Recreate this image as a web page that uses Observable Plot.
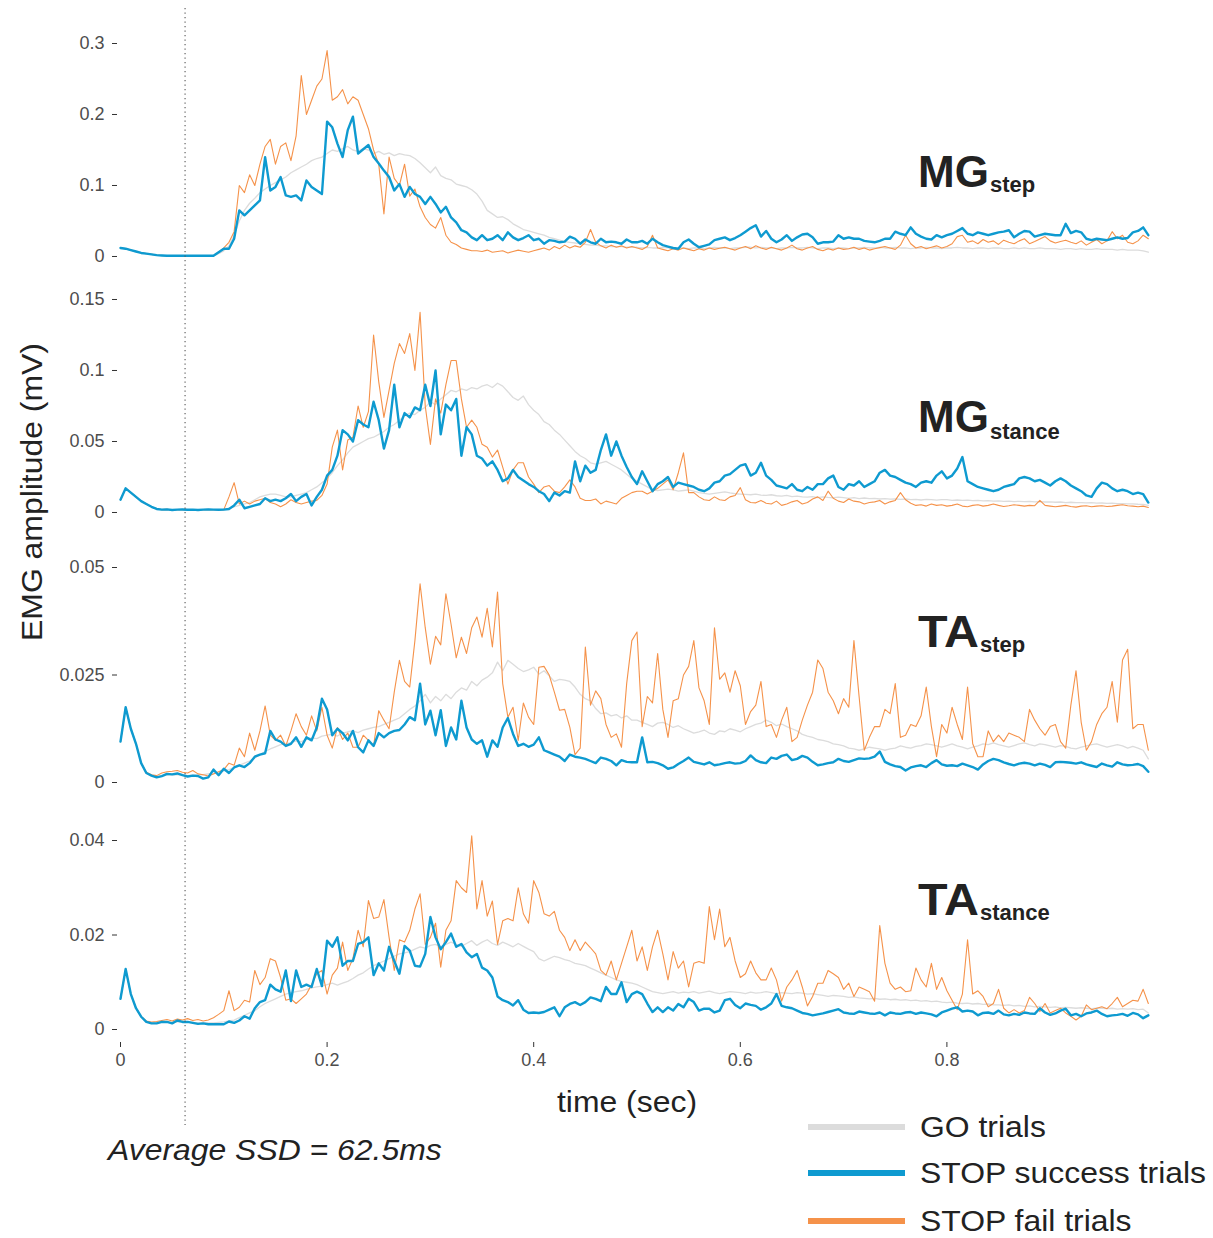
<!DOCTYPE html>
<html><head><meta charset="utf-8">
<script src="https://cdn.jsdelivr.net/npm/d3@7"></script>
<script src="https://cdn.jsdelivr.net/npm/@observablehq/plot@0.6"></script>
<style>
body{margin:0;background:#fff;font-family:"Liberation Sans",Arial,sans-serif;}
#root{position:relative;width:1213px;height:1238px;overflow:hidden;background:#fff;}
#root svg{position:absolute;left:0;}
.t{position:absolute;white-space:nowrap;line-height:1;color:#222;transform-origin:0 0;}
</style></head><body><div id="root"></div>
<script>
// ---------- data ----------
const dt = 0.005;            // sample step of all traces (sec), t = i*dt
const ssdSec = 0.0625;       // average stop-signal delay
const xTicks = [0, 0.2, 0.4, 0.6, 0.8];
const mgStepTicks = [0, 0.1, 0.2, 0.3];
const mgStanceTicks = [0, 0.05, 0.1, 0.15];
const taStepTicks = [0, 0.025, 0.05];
const taStanceTicks = [0, 0.02, 0.04];
const seriesNames = ["GO trials", "STOP success trials", "STOP fail trials"];

const mgStepGo = [
0.012,0.011,0.009,0.007,0.005,0.004,0.003,0.002,0.0015,0.001,
0.001,0.001,0.001,0.001,0.001,0.001,0.001,0.001,0.001,0.004,
0.008,0.015,0.03,0.05,0.065,0.075,0.082,0.09,0.095,0.1,
0.104,0.108,0.112,0.118,0.122,0.126,0.13,0.135,0.138,0.14,
0.145,0.15,0.148,0.152,0.155,0.15,0.148,0.152,0.15,0.145,
0.148,0.144,0.146,0.142,0.145,0.143,0.142,0.138,0.132,0.125,
0.118,0.126,0.114,0.11,0.108,0.102,0.1,0.098,0.094,0.088,
0.078,0.065,0.06,0.055,0.056,0.052,0.046,0.042,0.038,0.036,
0.034,0.032,0.03,0.027,0.025,0.023,0.021,0.02,0.019,0.018,
0.017,0.016,0.016,0.015,0.015,0.014,0.014,0.014,0.013,0.013,
0.013,0.012,0.013,0.012,0.012,0.013,0.012,0.011,0.012,0.012,
0.011,0.012,0.012,0.011,0.012,0.013,0.012,0.012,0.011,0.012,
0.012,0.013,0.013,0.012,0.013,0.012,0.012,0.011,0.012,0.012,
0.013,0.012,0.012,0.013,0.012,0.011,0.012,0.012,0.011,0.012,
0.012,0.011,0.012,0.012,0.013,0.012,0.012,0.013,0.012,0.012,
0.013,0.012,0.012,0.011,0.012,0.012,0.013,0.012,0.012,0.011,
0.012,0.012,0.013,0.012,0.012,0.011,0.012,0.012,0.011,0.012,
0.012,0.011,0.011,0.012,0.011,0.012,0.011,0.011,0.012,0.011,
0.011,0.011,0.01,0.011,0.011,0.01,0.011,0.01,0.01,0.011,
0.01,0.01,0.01,0.009,0.01,0.009,0.009,0.009,0.008,0.006];
const mgStepSuccess = [
0.012,0.011,0.009,0.007,0.005,0.004,0.003,0.002,0.0015,0.001,
0.001,0.001,0.001,0.001,0.001,0.001,0.001,0.001,0.001,0.006,
0.011,0.011,0.025,0.065,0.058,0.065,0.072,0.079,0.14,0.093,
0.098,0.112,0.086,0.084,0.086,0.079,0.107,0.098,0.093,0.088,
0.19,0.182,0.159,0.14,0.178,0.197,0.145,0.151,0.157,0.14,
0.131,0.121,0.112,0.093,0.102,0.084,0.098,0.088,0.084,0.074,
0.084,0.074,0.062,0.07,0.055,0.048,0.037,0.034,0.027,0.023,
0.03,0.023,0.025,0.03,0.023,0.034,0.027,0.023,0.026,0.03,
0.023,0.025,0.018,0.023,0.022,0.02,0.021,0.028,0.025,0.018,
0.024,0.02,0.018,0.025,0.02,0.021,0.02,0.018,0.024,0.02,
0.02,0.022,0.018,0.025,0.02,0.016,0.014,0.012,0.011,0.02,
0.024,0.018,0.013,0.015,0.017,0.023,0.025,0.027,0.023,0.026,
0.03,0.035,0.04,0.044,0.028,0.036,0.025,0.02,0.024,0.03,
0.022,0.027,0.031,0.032,0.027,0.018,0.02,0.02,0.021,0.03,
0.025,0.027,0.025,0.025,0.022,0.021,0.02,0.022,0.025,0.025,
0.035,0.032,0.03,0.041,0.032,0.028,0.025,0.024,0.03,0.027,
0.03,0.032,0.036,0.04,0.032,0.03,0.034,0.032,0.03,0.032,
0.034,0.035,0.037,0.027,0.032,0.036,0.035,0.028,0.03,0.032,
0.031,0.03,0.03,0.046,0.033,0.036,0.034,0.025,0.023,0.025,
0.024,0.023,0.025,0.027,0.025,0.026,0.034,0.036,0.041,0.03];
const mgStepFail = [
0.012,0.011,0.009,0.007,0.005,0.004,0.003,0.002,0.0015,0.001,
0.001,0.001,0.001,0.001,0.001,0.001,0.001,0.001,0.001,0.006,
0.012,0.02,0.035,0.1,0.09,0.115,0.1,0.13,0.155,0.165,
0.13,0.155,0.16,0.135,0.17,0.255,0.2,0.22,0.24,0.25,
0.29,0.22,0.225,0.235,0.215,0.225,0.22,0.2,0.18,0.15,
0.13,0.06,0.14,0.11,0.1,0.13,0.085,0.095,0.07,0.055,
0.045,0.04,0.055,0.03,0.02,0.017,0.012,0.01,0.008,0.008,
0.007,0.009,0.006,0.007,0.008,0.005,0.007,0.009,0.0075,0.006,
0.008,0.01,0.012,0.009,0.014,0.011,0.016,0.012,0.015,0.013,
0.02,0.038,0.02,0.015,0.012,0.016,0.013,0.015,0.012,0.014,
0.012,0.01,0.014,0.03,0.012,0.01,0.008,0.011,0.009,0.012,
0.01,0.008,0.011,0.009,0.012,0.01,0.0115,0.013,0.011,0.009,
0.012,0.014,0.011,0.015,0.012,0.01,0.013,0.011,0.009,0.012,
0.016,0.011,0.009,0.012,0.014,0.01,0.008,0.011,0.009,0.012,
0.01,0.011,0.013,0.01,0.012,0.009,0.011,0.0125,0.014,0.012,
0.01,0.016,0.03,0.018,0.012,0.014,0.011,0.013,0.015,0.012,
0.014,0.018,0.028,0.03,0.02,0.022,0.018,0.024,0.02,0.022,
0.017,0.023,0.02,0.018,0.022,0.025,0.018,0.021,0.0245,0.028,
0.022,0.019,0.021,0.023,0.02,0.018,0.022,0.016,0.02,0.024,
0.018,0.022,0.035,0.025,0.03,0.02,0.018,0.022,0.03,0.025];

const mgStanceGo = [
0.009,0.017,0.014,0.011,0.008,0.006,0.004,0.0025,0.002,0.0022,
0.0018,0.002,0.0021,0.0019,0.002,0.0018,0.002,0.0021,0.002,0.0019,
0.002,0.003,0.004,0.005,0.006,0.007,0.009,0.011,0.012,0.013,
0.013,0.012,0.011,0.011,0.012,0.013,0.014,0.016,0.018,0.021,
0.024,0.028,0.033,0.037,0.042,0.046,0.048,0.05,0.052,0.053,
0.055,0.057,0.06,0.062,0.065,0.068,0.07,0.069,0.072,0.074,
0.078,0.076,0.08,0.083,0.086,0.085,0.087,0.086,0.088,0.087,
0.089,0.09,0.088,0.091,0.089,0.085,0.081,0.079,0.082,0.076,
0.072,0.069,0.064,0.062,0.058,0.055,0.051,0.047,0.043,0.04,
0.038,0.035,0.034,0.035,0.036,0.034,0.032,0.03,0.027,0.024,
0.022,0.02,0.018,0.016,0.0155,0.016,0.0165,0.016,0.015,0.0155,
0.016,0.015,0.014,0.0135,0.013,0.0135,0.014,0.0145,0.0138,0.0132,
0.013,0.0128,0.0125,0.013,0.0122,0.012,0.0125,0.0118,0.0115,0.012,
0.0112,0.0115,0.011,0.0108,0.0112,0.0105,0.011,0.0106,0.0104,0.0108,
0.0105,0.01,0.0104,0.0098,0.0102,0.0097,0.01,0.0095,0.0098,0.0094,
0.0096,0.0092,0.0095,0.009,0.0093,0.0088,0.0092,0.009,0.0087,0.009,
0.009,0.0086,0.0088,0.0085,0.0087,0.0083,0.0085,0.0082,0.0084,0.008,
0.0082,0.0078,0.008,0.0077,0.0079,0.0076,0.0078,0.0075,0.0077,0.0074,
0.0075,0.0072,0.0074,0.007,0.0072,0.0069,0.007,0.0068,0.0069,0.0066,
0.0067,0.0064,0.0066,0.0062,0.0063,0.006,0.0061,0.0058,0.0057,0.005];
const mgStanceSuccess = [
0.009,0.017,0.014,0.011,0.008,0.006,0.004,0.0025,0.002,0.0022,
0.0018,0.002,0.0021,0.0019,0.002,0.0018,0.002,0.0021,0.002,0.0019,
0.002,0.0025,0.005,0.009,0.003,0.004,0.005,0.006,0.01,0.008,
0.009,0.008,0.01,0.013,0.008,0.011,0.013,0.005,0.011,0.016,
0.026,0.03,0.04,0.058,0.055,0.05,0.065,0.062,0.06,0.078,
0.065,0.045,0.058,0.09,0.06,0.07,0.067,0.074,0.072,0.09,
0.075,0.1,0.055,0.076,0.072,0.08,0.04,0.06,0.055,0.04,
0.038,0.033,0.036,0.03,0.022,0.024,0.03,0.025,0.0225,0.02,
0.018,0.015,0.013,0.008,0.014,0.012,0.015,0.014,0.036,0.022,
0.033,0.028,0.03,0.044,0.055,0.04,0.05,0.04,0.032,0.025,
0.02,0.029,0.022,0.015,0.02,0.022,0.025,0.018,0.021,0.02,
0.019,0.018,0.016,0.015,0.017,0.021,0.022,0.026,0.027,0.03,
0.033,0.034,0.026,0.028,0.035,0.026,0.023,0.019,0.018,0.017,
0.02,0.016,0.015,0.018,0.016,0.02,0.02,0.024,0.026,0.018,
0.016,0.02,0.019,0.022,0.018,0.02,0.022,0.028,0.03,0.026,
0.025,0.023,0.021,0.02,0.018,0.021,0.022,0.021,0.026,0.029,
0.024,0.026,0.031,0.039,0.022,0.02,0.018,0.017,0.016,0.015,
0.016,0.018,0.019,0.02,0.024,0.025,0.024,0.022,0.023,0.021,
0.019,0.022,0.024,0.022,0.019,0.017,0.015,0.012,0.011,0.017,
0.021,0.02,0.017,0.015,0.016,0.015,0.013,0.014,0.013,0.007];
const mgStanceFail = [
0.009,0.017,0.014,0.011,0.008,0.006,0.004,0.0025,0.002,0.0022,
0.0018,0.002,0.0021,0.0019,0.002,0.0018,0.002,0.0021,0.002,0.0019,
0.002,0.011,0.021,0.006,0.008,0.006,0.008,0.009,0.01,0.007,
0.006,0.004,0.006,0.009,0.007,0.006,0.007,0.008,0.0085,0.012,
0.02,0.046,0.058,0.03,0.051,0.053,0.075,0.06,0.071,0.125,
0.092,0.067,0.086,0.105,0.119,0.112,0.126,0.1,0.141,0.075,
0.048,0.08,0.07,0.09,0.107,0.107,0.08,0.06,0.065,0.06,
0.048,0.046,0.039,0.044,0.032,0.02,0.03,0.035,0.035,0.025,
0.02,0.014,0.018,0.019,0.015,0.014,0.018,0.023,0.018,0.01,
0.0085,0.0085,0.0095,0.006,0.008,0.007,0.006,0.01,0.012,0.014,
0.015,0.015,0.013,0.015,0.017,0.02,0.023,0.016,0.028,0.042,
0.014,0.014,0.011,0.009,0.0085,0.011,0.009,0.0085,0.011,0.012,
0.0175,0.009,0.007,0.0068,0.0085,0.0065,0.006,0.008,0.005,0.006,
0.0075,0.0085,0.006,0.007,0.0095,0.011,0.0085,0.015,0.01,0.008,
0.007,0.0095,0.008,0.0075,0.006,0.007,0.0075,0.0085,0.006,0.0075,
0.0085,0.014,0.009,0.0065,0.005,0.0055,0.0045,0.006,0.005,0.0055,
0.0045,0.005,0.006,0.0045,0.004,0.005,0.0055,0.0045,0.005,0.006,
0.005,0.0042,0.0048,0.0055,0.005,0.0045,0.005,0.0048,0.0085,0.005,
0.0045,0.004,0.0045,0.005,0.0042,0.0038,0.0045,0.0048,0.004,0.0045,
0.0048,0.0042,0.0045,0.005,0.0055,0.0048,0.0045,0.004,0.0045,0.0035];

const taStepGo = [
0.0095,0.0175,0.0125,0.009,0.0045,0.0022,0.0016,0.0014,0.0015,0.0017,
0.0018,0.0018,0.0017,0.0016,0.0017,0.0017,0.0018,0.002,0.0022,0.0024,
0.0027,0.003,0.0035,0.004,0.0045,0.005,0.0057,0.0065,0.0072,0.0078,
0.0083,0.0088,0.009,0.0093,0.0097,0.0095,0.01,0.0104,0.0102,0.0108,
0.011,0.0112,0.0108,0.0115,0.0118,0.012,0.0116,0.0122,0.0125,0.0128,
0.013,0.0135,0.014,0.0145,0.015,0.016,0.017,0.0178,0.019,0.0205,
0.0185,0.02,0.019,0.0205,0.0195,0.021,0.022,0.0215,0.0235,0.0225,
0.0238,0.0245,0.0255,0.028,0.026,0.0284,0.0275,0.0265,0.0258,0.0262,
0.0268,0.0252,0.026,0.0248,0.0235,0.024,0.0238,0.0235,0.0222,0.0205,
0.0195,0.019,0.0172,0.016,0.0162,0.0155,0.0158,0.015,0.0155,0.0145,
0.0145,0.014,0.0135,0.013,0.0138,0.014,0.0135,0.0128,0.0132,0.0125,
0.012,0.0115,0.0118,0.0122,0.0115,0.0112,0.012,0.0118,0.0125,0.0122,
0.0118,0.0125,0.013,0.0135,0.0138,0.0145,0.014,0.0132,0.0136,0.013,
0.0125,0.012,0.0112,0.0108,0.0105,0.01,0.0098,0.0095,0.009,0.0088,
0.0085,0.008,0.0078,0.0075,0.0078,0.0082,0.008,0.0078,0.0075,0.0078,
0.008,0.0085,0.0082,0.008,0.0084,0.0086,0.009,0.0088,0.0085,0.0082,
0.0086,0.009,0.0085,0.0082,0.0078,0.0082,0.0085,0.009,0.0088,0.0092,
0.0088,0.0085,0.0082,0.0086,0.009,0.0092,0.0088,0.0085,0.009,0.0088,
0.0085,0.0082,0.0086,0.0084,0.008,0.0078,0.0082,0.0085,0.0088,0.009,
0.0086,0.0082,0.0085,0.0088,0.0085,0.008,0.0084,0.008,0.0075,0.0055];
const taStepSuccess = [
0.0095,0.0175,0.0125,0.009,0.0045,0.0022,0.0016,0.0012,0.0015,0.002,
0.0019,0.0021,0.0017,0.0014,0.0016,0.0015,0.0009,0.0012,0.003,0.0017,
0.0032,0.0022,0.0035,0.004,0.0036,0.0045,0.006,0.0065,0.0068,0.012,
0.01,0.0095,0.0085,0.009,0.0105,0.0083,0.0105,0.0098,0.0128,0.0195,
0.017,0.011,0.0125,0.0115,0.0098,0.012,0.0082,0.007,0.0098,0.0085,
0.0115,0.0105,0.0115,0.012,0.0122,0.0135,0.0152,0.0145,0.023,0.0135,
0.0167,0.011,0.0168,0.0085,0.0128,0.01,0.019,0.0128,0.01,0.009,
0.0098,0.006,0.0098,0.0083,0.0128,0.015,0.0113,0.0085,0.009,0.0083,
0.0088,0.0105,0.0075,0.007,0.0065,0.006,0.005,0.0065,0.006,0.0058,
0.0055,0.005,0.0045,0.0058,0.0055,0.005,0.004,0.0052,0.0048,0.0047,
0.0047,0.0105,0.0047,0.0048,0.0045,0.004,0.0032,0.0035,0.0043,0.005,
0.0058,0.0048,0.0045,0.0042,0.0047,0.004,0.0042,0.0045,0.0047,0.0044,
0.0045,0.005,0.0063,0.0052,0.0047,0.0045,0.0058,0.0055,0.0062,0.0065,
0.0052,0.0055,0.0062,0.0058,0.0048,0.004,0.0042,0.0045,0.0047,0.0055,
0.005,0.0048,0.0052,0.0056,0.0055,0.0056,0.006,0.0072,0.0048,0.0042,
0.0038,0.0036,0.0028,0.0035,0.0038,0.004,0.0036,0.0045,0.0052,0.0042,
0.0039,0.004,0.0038,0.0044,0.004,0.0036,0.003,0.0042,0.005,0.0055,
0.0052,0.0047,0.0043,0.004,0.0044,0.0046,0.0044,0.004,0.0044,0.0041,
0.0036,0.0047,0.0048,0.0047,0.0046,0.0044,0.0047,0.0042,0.0039,0.0036,
0.0044,0.004,0.0037,0.0047,0.0042,0.004,0.0041,0.0043,0.0038,0.0025];
const taStepFail = [
0.0095,0.0175,0.0125,0.009,0.0045,0.0024,0.0018,0.0016,0.0022,0.0025,
0.0026,0.0028,0.0024,0.0022,0.0028,0.002,0.0018,0.0015,0.002,0.0025,
0.003,0.0045,0.004,0.008,0.006,0.0115,0.0075,0.012,0.0178,0.011,
0.0098,0.011,0.0085,0.012,0.016,0.013,0.011,0.0155,0.012,0.0175,
0.011,0.008,0.0128,0.01,0.0115,0.0082,0.0082,0.011,0.0098,0.0085,
0.0167,0.0145,0.0125,0.021,0.0284,0.0235,0.0222,0.033,0.0462,0.036,
0.0275,0.034,0.032,0.0439,0.0368,0.029,0.0338,0.03,0.036,0.0385,
0.0338,0.0405,0.0315,0.0443,0.023,0.0152,0.0175,0.0098,0.0185,0.0152,
0.0135,0.0268,0.027,0.025,0.021,0.0168,0.017,0.0128,0.0065,0.008,
0.0315,0.018,0.0213,0.0195,0.0135,0.0105,0.0113,0.0082,0.023,0.033,
0.035,0.013,0.02,0.0185,0.03,0.017,0.0105,0.019,0.0195,0.025,
0.027,0.033,0.022,0.019,0.0135,0.036,0.024,0.0255,0.021,0.026,
0.0225,0.0135,0.0165,0.018,0.0235,0.013,0.0135,0.0105,0.0145,0.0175,
0.0095,0.0105,0.0145,0.018,0.021,0.0285,0.0265,0.021,0.019,0.016,
0.0195,0.0175,0.033,0.02,0.0075,0.0105,0.013,0.013,0.017,0.016,
0.023,0.0105,0.011,0.0135,0.013,0.0155,0.0222,0.013,0.006,0.0135,
0.0115,0.0175,0.0135,0.01,0.0222,0.009,0.006,0.006,0.012,0.0095,
0.011,0.0095,0.0115,0.011,0.0105,0.0095,0.017,0.0145,0.0125,0.011,
0.013,0.0135,0.0095,0.008,0.018,0.026,0.014,0.0075,0.0095,0.0135,
0.016,0.0175,0.0235,0.014,0.0285,0.031,0.0125,0.0135,0.0135,0.0075];

const taStanceGo = [
0.0065,0.0128,0.0075,0.0045,0.0027,0.0016,0.0014,0.0014,0.0015,0.0016,
0.0015,0.0016,0.0016,0.0015,0.0015,0.0014,0.0014,0.0014,0.0014,0.0015,
0.0016,0.0018,0.002,0.0025,0.003,0.0035,0.004,0.0048,0.0055,0.006,
0.0065,0.007,0.0075,0.0078,0.008,0.0082,0.0085,0.0088,0.009,0.0092,
0.0095,0.0098,0.0094,0.0098,0.0102,0.0108,0.0115,0.012,0.0128,0.0135,
0.014,0.0145,0.015,0.0155,0.016,0.0162,0.0165,0.017,0.0175,0.0172,
0.0178,0.018,0.0175,0.018,0.0185,0.018,0.0176,0.0182,0.0188,0.0178,
0.0185,0.019,0.0182,0.0178,0.0185,0.018,0.0175,0.0182,0.0176,0.017,
0.0165,0.015,0.0145,0.015,0.0155,0.0152,0.0148,0.0145,0.014,0.0138,
0.0135,0.013,0.0125,0.012,0.0115,0.011,0.0105,0.0102,0.01,0.0098,
0.0095,0.009,0.0085,0.008,0.0078,0.0076,0.0078,0.008,0.0077,0.0079,
0.0078,0.008,0.0077,0.0079,0.0081,0.0078,0.0076,0.0078,0.008,0.0079,
0.0078,0.0076,0.0079,0.0077,0.0078,0.008,0.0078,0.0076,0.0078,0.0077,
0.0076,0.0078,0.0077,0.0075,0.0076,0.0074,0.0072,0.007,0.0072,0.0071,
0.007,0.0068,0.0069,0.0067,0.0066,0.0065,0.0066,0.0064,0.0065,0.0063,
0.0064,0.0062,0.0063,0.0061,0.0062,0.006,0.0061,0.0059,0.006,0.0058,
0.0057,0.0058,0.0056,0.0055,0.0056,0.0054,0.0055,0.0053,0.0054,0.0052,
0.0052,0.0051,0.0052,0.005,0.0051,0.0049,0.005,0.0048,0.0049,0.0048,
0.0047,0.0048,0.0046,0.0047,0.0046,0.0045,0.0046,0.0045,0.0044,0.0045,
0.0045,0.0044,0.0045,0.0043,0.0044,0.0043,0.0044,0.0042,0.0043,0.0035];
const taStanceSuccess = [
0.0065,0.0128,0.0075,0.0045,0.0027,0.0016,0.0013,0.0013,0.0016,0.0016,
0.0013,0.0019,0.0016,0.0016,0.0014,0.0012,0.0013,0.0011,0.0011,0.0011,
0.0011,0.0017,0.0014,0.0019,0.0028,0.0023,0.0045,0.0058,0.0062,0.0095,
0.0085,0.008,0.0125,0.006,0.0125,0.009,0.0095,0.009,0.0128,0.0092,
0.0188,0.0175,0.0195,0.0135,0.0145,0.0145,0.0181,0.0185,0.0195,0.0115,
0.014,0.0125,0.0175,0.0145,0.0118,0.0177,0.0167,0.0135,0.0133,0.016,
0.0238,0.0195,0.017,0.0185,0.0203,0.0175,0.0181,0.0163,0.0153,0.016,
0.0131,0.0125,0.011,0.007,0.0062,0.0058,0.0051,0.0062,0.0042,0.0035,
0.0036,0.0035,0.0037,0.0042,0.0047,0.0028,0.0047,0.0054,0.0058,0.0052,
0.0058,0.0068,0.0065,0.006,0.009,0.0075,0.0075,0.01,0.0058,0.0075,
0.008,0.0075,0.0055,0.0037,0.0047,0.0037,0.0047,0.004,0.0054,0.0047,
0.0065,0.0058,0.004,0.0044,0.0044,0.0036,0.004,0.0062,0.0065,0.0052,
0.0045,0.0055,0.0052,0.005,0.0042,0.0047,0.0055,0.0075,0.005,0.0047,
0.0045,0.004,0.0035,0.0033,0.003,0.0032,0.0034,0.0037,0.004,0.0043,
0.0036,0.0034,0.0033,0.0038,0.0036,0.0034,0.0033,0.0036,0.003,0.0036,
0.0034,0.0033,0.0036,0.0037,0.0033,0.0036,0.0034,0.0032,0.0028,0.0036,
0.004,0.0044,0.0047,0.0038,0.004,0.0038,0.003,0.0035,0.0036,0.0033,
0.004,0.0032,0.003,0.0033,0.0031,0.0036,0.0034,0.0033,0.0045,0.0036,
0.0031,0.0034,0.004,0.0044,0.003,0.0033,0.0028,0.0034,0.0036,0.004,
0.0033,0.0028,0.003,0.0031,0.0033,0.0029,0.0035,0.0032,0.0024,0.003];
const taStanceFail = [
0.0065,0.0128,0.0075,0.0045,0.0027,0.0018,0.0016,0.0017,0.0019,0.0021,
0.0018,0.0022,0.002,0.0023,0.0019,0.0021,0.0018,0.002,0.0025,0.0032,
0.004,0.0082,0.004,0.0047,0.0062,0.0058,0.0125,0.0095,0.011,0.015,
0.0145,0.011,0.0062,0.0065,0.0055,0.0065,0.0075,0.0095,0.0118,0.0125,
0.0075,0.0115,0.013,0.0185,0.0125,0.015,0.021,0.0175,0.0273,0.0235,
0.0238,0.0275,0.0195,0.0125,0.019,0.0185,0.021,0.0255,0.0287,0.018,
0.0195,0.0225,0.0132,0.021,0.023,0.0315,0.03,0.029,0.041,0.0255,
0.0315,0.024,0.0272,0.018,0.023,0.0235,0.023,0.03,0.0245,0.0225,
0.0315,0.029,0.0245,0.024,0.025,0.021,0.0195,0.0167,0.019,0.0167,
0.0185,0.0173,0.016,0.0125,0.0115,0.0145,0.0105,0.014,0.0175,0.021,
0.0145,0.0175,0.0125,0.0175,0.021,0.016,0.0105,0.0165,0.013,0.0145,
0.009,0.014,0.0144,0.014,0.026,0.019,0.0255,0.0175,0.0195,0.0145,
0.011,0.0118,0.0145,0.012,0.0105,0.0105,0.013,0.0105,0.006,0.009,
0.0105,0.0125,0.009,0.005,0.007,0.0098,0.0098,0.0125,0.0118,0.011,
0.0085,0.0098,0.007,0.009,0.0085,0.008,0.006,0.022,0.014,0.0098,
0.0085,0.009,0.008,0.0082,0.013,0.0105,0.009,0.014,0.0085,0.011,
0.0082,0.0062,0.0042,0.0075,0.019,0.0075,0.0082,0.007,0.0048,0.0055,
0.0085,0.0045,0.0035,0.0042,0.0035,0.004,0.0068,0.0055,0.0038,0.0055,
0.0035,0.004,0.0045,0.0035,0.0028,0.002,0.0028,0.0052,0.0042,0.0045,
0.0048,0.0044,0.0055,0.0068,0.0048,0.0055,0.0062,0.006,0.0085,0.0055];

// ---------- layout / style ----------
const W = 1213, ML = 120, MR = 60;
const colors = {go: "#dcdcdc", success: "#0e9ad0", fail: "#f5924a"};
const widths = {go: 1.3, success: 2.4, fail: 1.1};
const font = "'Liberation Sans', Arial, sans-serif";
const stretch = 1.1;   // reference text is slightly wider than the stock font
const root = document.getElementById("root");

const panels = [
  {main: "MG", sub: "step", go: mgStepGo, success: mgStepSuccess, fail: mgStepFail, ticks: mgStepTicks,
   top: 0, height: 270, mt: 30, mb: 0, domain: [-0.01972, 0.31831], lx: 918, lb: 187, sx: 990, sb: 193, ls: 1},
  {main: "MG", sub: "stance", go: mgStanceGo, success: mgStanceSuccess, fail: mgStanceFail, ticks: mgStanceTicks,
   top: 270, height: 260, mt: 0, mb: 0, domain: [-0.01268, 0.17042], lx: 918, lb: 432, sx: 990, sb: 440, ls: 1},
  {main: "TA", sub: "step", go: taStepGo, success: taStepSuccess, fail: taStepFail, ticks: taStepTicks,
   top: 530, height: 270, mt: 0, mb: 0, domain: [-0.004186, 0.058605], lx: 918, lb: 647, sx: 980, sb: 653, ls: 1.1},
  {main: "TA", sub: "stance", go: taStanceGo, success: taStanceSuccess, fail: taStanceFail, ticks: taStanceTicks,
   top: 800, height: 300, mt: 0, mb: 58, domain: [-0.002751, 0.048466], lx: 918, lb: 915, sx: 980, sb: 921, ls: 1.1, xaxis: true}
];

const toRows = arr => arr.map((v, i) => ({t: i * dt, v}));

function addText(txt, x, baseline, size, opts = {}) {
  const d = document.createElement("div");
  d.className = "t";
  d.textContent = txt;
  d.style.left = x + "px";
  d.style.top = (baseline - 0.8465 * size) + "px";
  d.style.fontSize = size + "px";
  d.style.fontFamily = font;
  if (opts.weight) d.style.fontWeight = opts.weight;
  if (opts.style) d.style.fontStyle = opts.style;
  if (opts.color) d.style.color = opts.color;
  const s = opts.scale || 1;
  d.style.transform = opts.center ? `scaleX(${s}) translateX(-50%)` : `scaleX(${s})`;
  root.appendChild(d);
  return d;
}

panels.forEach(p => {
  const marks = [
    Plot.axisY(p.ticks, {anchor: "left", tickSize: 5, tickPadding: 8, dx: -3, label: null,
      tickFormat: d => String(d), stroke: "#333", fill: "#4d4d4d", fontSize: 18}),
    Plot.lineY(toRows(p.go), {x: "t", y: "v", stroke: colors.go, strokeWidth: widths.go}),
    Plot.lineY(toRows(p.fail), {x: "t", y: "v", stroke: colors.fail, strokeWidth: widths.fail}),
    Plot.lineY(toRows(p.success), {x: "t", y: "v", stroke: colors.success, strokeWidth: widths.success})
  ];
  if (p.xaxis) marks.push(Plot.axisX(xTicks, {anchor: "bottom", tickSize: 5, tickPadding: 6, label: null,
      tickFormat: d => String(d), stroke: "#333", fill: "#4d4d4d", fontSize: 18}));
  const svg = Plot.plot({
    width: W, height: p.height, marginLeft: ML, marginRight: MR, marginTop: p.mt, marginBottom: p.mb,
    style: {background: "transparent", fontFamily: font, fontSize: "18px", overflow: "visible"},
    x: {domain: [0, 1], axis: null},
    y: {domain: p.domain},
    marks
  });
  svg.style.top = p.top + "px";
  root.appendChild(svg);
  addText(p.main, p.lx, p.lb, 44, {weight: "bold", scale: p.ls});
  addText(p.sub, p.sx, p.sb, 22, {weight: "bold"});
});

// dotted SSD line across the whole figure
const overlay = Plot.plot({
  width: W, height: 1238, marginLeft: ML, marginRight: MR, marginTop: 8, marginBottom: 113,
  style: {background: "transparent", pointerEvents: "none"},
  x: {domain: [0, 1], axis: null}, y: {domain: [0, 1], axis: null},
  marks: [Plot.ruleX([ssdSec], {stroke: "#555", strokeWidth: 1.1, strokeDasharray: "1.2,3.3"})]
});
overlay.style.top = "0px";
root.appendChild(overlay);

// axis titles
addText("time (sec)", 627, 1113, 29, {center: true, scale: stretch});
const yl = document.createElement("div");
yl.className = "t";
yl.textContent = "EMG amplitude (mV)";
Object.assign(yl.style, {left: "32px", top: "492px", fontSize: "29px", fontFamily: font,
  transformOrigin: "50% 50%",
  transform: `translate(-50%,-50%) rotate(-90deg) scaleX(${stretch})`});
root.appendChild(yl);

addText("Average SSD = 62.5ms", 108, 1161, 29, {style: "italic", scale: stretch});

// legend
const legendKeys = ["go", "success", "fail"];
const legendY = [1127, 1173, 1221];
legendKeys.forEach((k, i) => {
  const line = document.createElement("div");
  Object.assign(line.style, {position: "absolute", left: "808px", width: "97px", height: "6px",
    top: (legendY[i] - 3) + "px", background: colors[k]});
  root.appendChild(line);
  addText(seriesNames[i], 920, legendY[i] + 10.5, 29, {scale: stretch});
});
</script></body></html>
